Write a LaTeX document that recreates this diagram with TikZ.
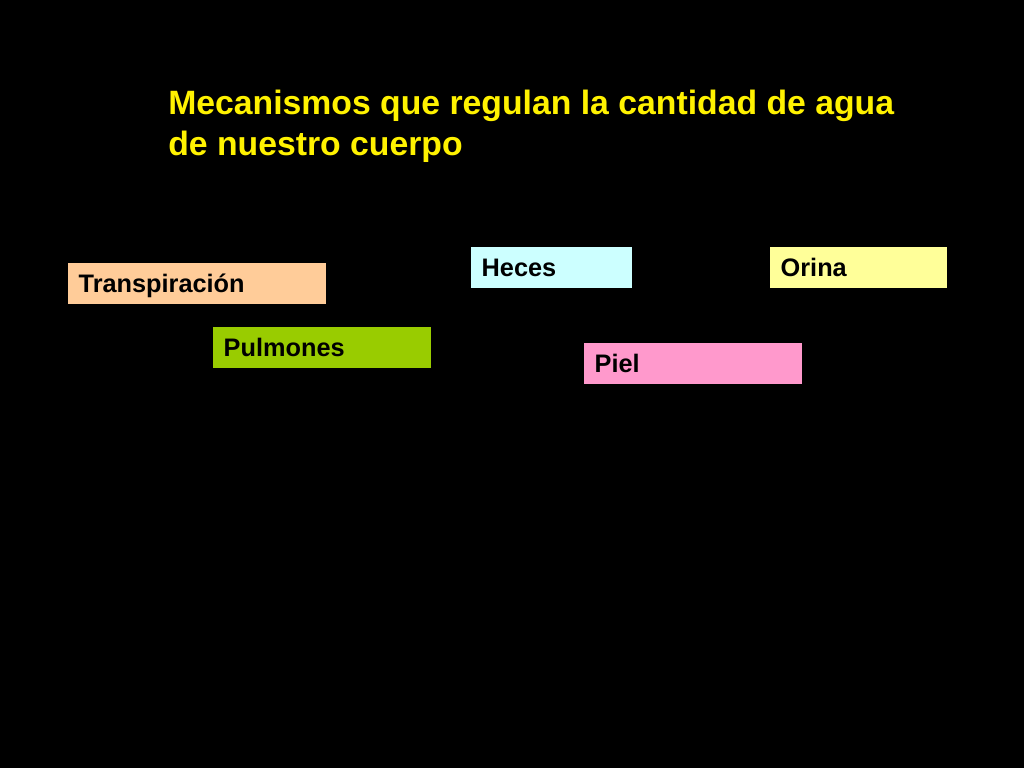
\documentclass[tikz,border=0pt]{standalone}
\usepackage{fontspec}
\setmainfont{Liberation Sans}
\usepackage{tikz}
\definecolor{peach}{HTML}{FFCC99}
\definecolor{lime}{HTML}{99CC00}
\definecolor{paleCyan}{HTML}{CCFFFF}
\definecolor{paleYellow}{HTML}{FFFF99}
\definecolor{pink}{HTML}{FF99CC}
\tikzset{
    heading/.style={anchor=base west, inner sep=0pt, align=left, text=yellow, font=\fontsize{24}{28.5}\selectfont\bfseries},
    outlet/.style={rectangle, anchor=north west, inner xsep=0.26cm, inner ysep=0pt, text depth=0.29cm, text height=0.735cm, minimum height=1.025cm, align=left, font=\fontsize{18}{20}\selectfont\bfseries}
}

\begin{document}
\begin{tikzpicture}[x=0.025cm, y=-0.025cm]
        % Background
        \fill[black] (0,0) rectangle (1024,768);
        \useasboundingbox (0,0) rectangle (1024,768);

        % Title (base anchor sits on the last line)
        \node[heading] (Title) at (168,155) {Mecanismos que regulan la cantidad de agua\\de nuestro cuerpo};

        % Ways of losing water
        \node[outlet, fill=peach, text width=5.93cm] (Transp) at (68,263) {Transpiración};
        \node[outlet, fill=lime, text width=4.93cm] (Pulm) at (213,327) {Pulmones};
        \node[outlet, fill=paleCyan, text width=3.5cm] (Heces) at (471,247) {Heces};
        \node[outlet, fill=paleYellow, text width=3.9cm] (Orina) at (770,247) {Orina};
        \node[outlet, fill=pink, text width=4.93cm] (Piel) at (584,343) {Piel};

    \end{tikzpicture}
\end{document}
